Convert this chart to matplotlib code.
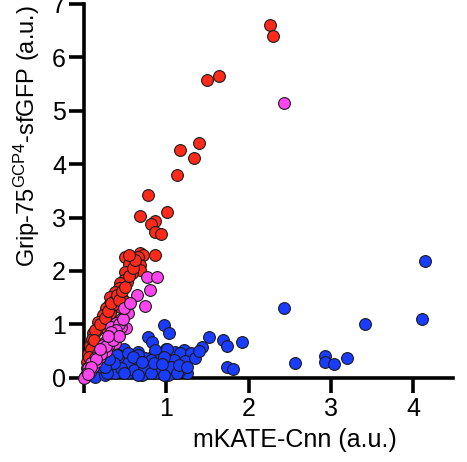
import matplotlib
matplotlib.use("Agg")
import matplotlib.pyplot as plt

plt.rcParams['font.family'] = ['Liberation Sans', 'DejaVu Sans']
plt.rcParams['mathtext.fontset'] = 'custom'
plt.rcParams['mathtext.rm'] = 'Liberation Sans'
plt.rcParams['mathtext.it'] = 'Liberation Sans:italic'

red_x = [2.26, 2.29, 1.49, 1.64, 1.39, 1.16, 1.33, 1.13, 0.78, 1.01, 0.68, 0.86, 0.81,
         0.86, 0.94, 0.86, 0.68, 0.72, 0.66, 0.50, 0.54, 0.68, 0.68, 0.58, 0.50, 0.48,
         0.52, 0.44, 0.42, 0.37, 0.38, 0.32, 0.38, 0.46, 0.48, 0.30, 0.36, 0.44, 0.35,
         0.27, 0.23, 0.31, 0.17, 0.21, 0.11, 0.15, 0.07, 0.10, 0.05, 0.04, 0.03,
         0.13, 0.19, 0.25, 0.29, 0.33, 0.40, 0.42, 0.46, 0.50, 0.55, 0.60, 0.62, 0.55,
         0.09, 0.12, 0.06]
red_y = [6.60, 6.39, 5.57, 5.64, 4.40, 4.26, 4.11, 3.79, 3.42, 3.11, 3.03, 2.94, 2.88,
         2.73, 2.69, 2.30, 2.33, 2.30, 2.27, 2.27, 2.14, 2.11, 2.02, 1.96, 1.99, 1.83,
         1.80, 1.77, 1.68, 1.58, 1.61, 1.52, 1.46, 1.49, 1.43, 1.36, 1.33, 1.33, 1.36,
         1.30, 1.18, 1.21, 1.05, 0.96, 0.84, 0.87, 0.62, 0.72, 0.45, 0.30, 0.18,
         0.90, 1.00, 1.12, 1.25, 1.40, 1.55, 1.45, 1.62, 1.70, 1.90, 2.05, 2.20, 2.30,
         0.55, 0.70, 0.40]

blue_x = [4.14, 4.10, 3.41, 2.43, 2.56, 2.92, 2.92, 3.04, 3.19, 1.52, 1.43, 1.69, 1.73,
          1.92, 1.73, 1.81, 0.97, 1.03, 0.78, 0.82, 1.21, 1.29, 1.13, 1.04, 1.13, 1.21,
          1.00, 0.92, 1.00, 1.11, 1.07, 1.13, 0.94, 0.84, 0.82, 0.49, 0.66, 0.86, 1.10,
          0.41, 0.57, 0.74, 0.90, 0.33, 0.49, 0.66, 0.98, 0.21, 0.37, 0.53, 0.70, 0.86,
          1.02, 0.13, 0.25, 0.60, 0.45, 0.78, 1.20, 1.25,
          0.40, 0.53, 0.65, 1.01, 1.17, 1.30, 1.09, 1.22, 0.97, 0.81, 0.53, 0.45, 0.61,
          0.73, 0.89, 1.05, 1.17, 0.49, 0.65, 0.81, 0.97, 1.13, 0.36, 0.28,
          0.25, 0.30, 0.60, 0.70, 0.85, 0.95, 1.15, 1.25, 1.35, 1.40]
blue_y = [2.19, 1.10, 1.01, 1.31, 0.27, 0.41, 0.30, 0.26, 0.38, 0.77, 0.57, 0.70, 0.59,
          0.68, 0.20, 0.17, 0.99, 0.84, 0.77, 0.68, 0.53, 0.44, 0.47, 0.41, 0.34, 0.40,
          0.55, 0.46, 0.34, 0.35, 0.24, 0.18, 0.09, 0.18, 0.40, 0.55, 0.49, 0.52, 0.49,
          0.43, 0.34, 0.37, 0.34, 0.24, 0.18, 0.18, 0.18, 0.12, 0.09, 0.09, 0.06, 0.09,
          0.06, 0.02, 0.05, 0.25, 0.30, 0.25, 0.28, 0.10,
          0.43, 0.46, 0.43, 0.55, 0.46, 0.46, 0.34, 0.31, 0.40, 0.34, 0.27, 0.18, 0.15,
          0.21, 0.18, 0.21, 0.15, 0.09, 0.06, 0.09, 0.06, 0.09, 0.27, 0.09,
          0.20, 0.35, 0.40, 0.30, 0.28, 0.26, 0.25, 0.20, 0.38, 0.50]

pink_x = [2.43, 0.76, 0.88, 0.80, 0.64, 0.74, 0.53, 0.45, 0.51, 0.39, 0.33, 0.41, 0.31,
          0.37, 0.25, 0.29, 0.21, 0.17, 0.13, 0.09, 0.05, 0.03, 0.01, 0.00, 0.45, 0.27,
          0.19, 0.07, 0.11, 0.15, 0.23, 0.35, 0.43,
          0.47, 0.39, 0.33, 0.27, 0.21, 0.15, 0.09, 0.05, 0.35, 0.43, 0.48, 0.56, 0.29, 0.19]
pink_y = [5.15, 1.89, 1.89, 1.64, 1.55, 1.35, 1.21, 1.11, 0.93, 1.02, 0.96, 0.84, 0.74,
          0.65, 0.68, 0.59, 0.55, 0.46, 0.37, 0.27, 0.18, 0.09, 0.02, 0.00, 0.95, 0.50,
          0.40, 0.12, 0.20, 0.30, 0.62, 0.80, 1.00,
          1.10, 0.90, 0.85, 0.60, 0.45, 0.35, 0.20, 0.08, 0.70, 0.78, 1.30, 1.40, 0.78, 0.55]

x_ticks = [0, 1, 2, 3, 4]
x_labels = ['', '1', '2', '3', '4']
y_ticks = [0, 1, 2, 3, 4, 5, 6, 7]

fig = plt.figure(figsize=(4.67, 4.62), dpi=100)
ax = fig.add_axes([0.18, 0.182, 0.79, 0.810])

kw = dict(s=72, edgecolors='#1a1a1a', linewidths=0.8, clip_on=False, zorder=3)
ax.scatter(red_x, red_y, c='#FF2A1A', **kw)
ax.scatter(blue_x, blue_y, c='#1A3CFF', **kw)
ax.scatter(pink_x, pink_y, c='#FF45EE', **kw)

ax.set_xlim(0, 4.48)
ax.set_ylim(0, 7)
ax.set_xticks(x_ticks)
ax.set_xticklabels(x_labels)
ax.set_yticks(y_ticks)

for s in ['top', 'right']:
    ax.spines[s].set_visible(False)
for s in ['left', 'bottom']:
    ax.spines[s].set_linewidth(2.6)
ax.tick_params(axis='both', direction='out', length=11, width=2.6, labelsize=18)
ax.tick_params(axis='x', pad=3)
ax.tick_params(axis='y', pad=2)

ax.set_xlabel('mKATE-Cnn (a.u.)', fontsize=18)
ax.xaxis.set_label_coords(0.572, -0.135)
ax.set_ylabel(r'Grip-75$^{\mathrm{GCP4}}$-sfGFP (a.u.)', fontsize=17)
ax.yaxis.set_label_coords(-0.114, 0.645)

fig.savefig('out.png', dpi=100)
